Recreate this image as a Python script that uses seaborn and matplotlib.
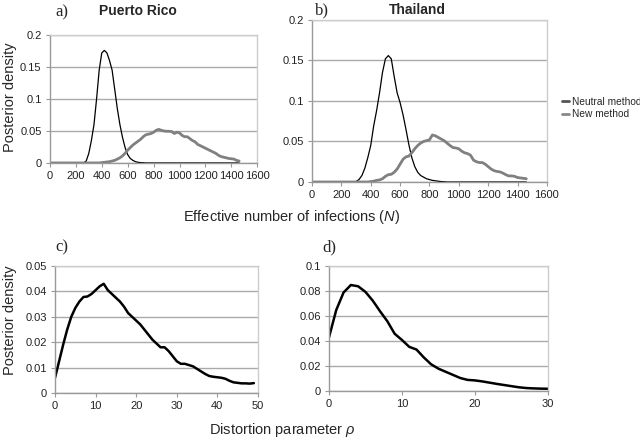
import numpy as np
import pandas as pd
import matplotlib
matplotlib.use("Agg")
import matplotlib.pyplot as plt
import seaborn as sns
from matplotlib.ticker import FuncFormatter, MultipleLocator

# --- data ---
n_grid = list(range(0, 1480, 20))  # effective number of infections N

pr_neutral = [0] * 14 + [
    0.003, 0.015, 0.035, 0.06, 0.10, 0.145, 0.172, 0.176, 0.172, 0.16,
    0.145, 0.115, 0.085, 0.06, 0.04, 0.024, 0.013, 0.007, 0.004, 0.002,
    0.001, 0.0005, 0.0003] + [0] * 37
pr_new = [0] * 20 + [
    0.0005, 0.001, 0.0015, 0.002, 0.003, 0.004, 0.006, 0.008, 0.011, 0.015,
    0.02, 0.024, 0.028, 0.031, 0.034, 0.037, 0.041, 0.044, 0.045, 0.046,
    0.048, 0.051, 0.0525, 0.051, 0.050, 0.0495, 0.0495, 0.049, 0.046, 0.048,
    0.047, 0.043, 0.041, 0.041, 0.038, 0.035, 0.033, 0.029, 0.027, 0.025,
    0.023, 0.021, 0.019, 0.017, 0.015, 0.012, 0.010, 0.009, 0.008, 0.007,
    0.0065, 0.006, 0.004, 0.003]

th_neutral = [0] * 15 + [
    0.0005, 0.003, 0.008, 0.017, 0.03, 0.045, 0.069, 0.088, 0.11, 0.135,
    0.152, 0.156, 0.152, 0.13, 0.11, 0.098, 0.083, 0.065, 0.046, 0.03,
    0.019, 0.012, 0.008, 0.006, 0.004, 0.003, 0.002, 0.0015, 0.001, 0.0005,
    0.0003] + [0] * 28
th_new = [0] * 20 + [
    0.0005, 0.001, 0.002, 0.0025, 0.004, 0.007, 0.009, 0.0095, 0.012, 0.016,
    0.022, 0.028, 0.031, 0.032, 0.036, 0.041, 0.045, 0.048, 0.050, 0.051,
    0.052, 0.058, 0.057, 0.055, 0.053, 0.051, 0.048, 0.045, 0.0425, 0.042,
    0.041, 0.038, 0.036, 0.035, 0.033, 0.027, 0.025, 0.024, 0.024, 0.022,
    0.019, 0.016, 0.014, 0.013, 0.0125, 0.011, 0.009, 0.0075, 0.0075, 0.007,
    0.0055, 0.005, 0.0045, 0.004]

rho_pr = list(range(0, 50))
dens_pr = [
    0.006, 0.0125, 0.019, 0.025, 0.030, 0.0335, 0.036, 0.0378, 0.038, 0.039,
    0.0405, 0.042, 0.043, 0.0405, 0.039, 0.0375, 0.036, 0.034, 0.0315, 0.030,
    0.0285, 0.027, 0.025, 0.023, 0.021, 0.0195, 0.018, 0.018, 0.0165, 0.0145,
    0.0125, 0.0115, 0.0115, 0.011, 0.0105, 0.0095, 0.0085, 0.0075, 0.0067, 0.0064,
    0.0062, 0.006, 0.0056, 0.0048, 0.0042, 0.004, 0.0038, 0.0038, 0.0037, 0.0039]

rho_th = list(range(0, 31))
dens_th = [
    0.043, 0.065, 0.079, 0.085, 0.084, 0.0795, 0.0725, 0.064, 0.056, 0.046,
    0.041, 0.0355, 0.0333, 0.027, 0.0215, 0.018, 0.0155, 0.013, 0.0105, 0.009,
    0.0086, 0.0078, 0.0068, 0.0058, 0.0049, 0.004, 0.0031, 0.0025, 0.0022, 0.002,
    0.0019]

# --- styling ---
sns.set_style("white")
plt.rcParams['font.family'] = ['Liberation Sans', 'DejaVu Sans']
plt.rcParams['mathtext.fontset'] = 'custom'
plt.rcParams['mathtext.rm'] = 'Liberation Sans'
plt.rcParams['mathtext.it'] = 'Liberation Sans:italic'

fig = plt.figure(figsize=(6.4, 4.38), dpi=100)
ax_a = fig.add_axes([0.078, 0.628, 0.324, 0.292])
ax_b = fig.add_axes([0.4875, 0.5845, 0.367, 0.370])
ax_c = fig.add_axes([0.086, 0.1027, 0.317, 0.29])
ax_d = fig.add_axes([0.514, 0.107, 0.342, 0.285])


def excel_style(ax, xmax, xstep, ymax, ystep):
    ax.set_xlim(0, xmax)
    ax.set_ylim(0, ymax)
    ax.xaxis.set_major_locator(MultipleLocator(xstep))
    ax.yaxis.set_major_locator(MultipleLocator(ystep))
    ax.yaxis.set_major_formatter(FuncFormatter(lambda v, p: f"{v:g}"))
    ax.grid(axis='y', color='#aaaaaa', linewidth=1.0)
    ax.set_axisbelow(True)
    for s in ['top', 'right']:
        ax.spines[s].set_color('#cccccc')
        ax.spines[s].set_linewidth(1.0)
    for s in ['left', 'bottom']:
        ax.spines[s].set_color('#999999')
        ax.spines[s].set_linewidth(1.0)
    ax.tick_params(axis='both', direction='out', length=3, width=0.8,
                   color='#999999', labelsize=8, labelcolor='#222222', pad=3)
    ax.tick_params(axis='x', bottom=True)
    ax.tick_params(axis='y', left=True)
    ax.set_xlabel('')
    ax.set_ylabel('')


# panels a and b
for ax, neu, new in [(ax_a, pr_neutral, pr_new), (ax_b, th_neutral, th_new)]:
    sns.lineplot(x=n_grid, y=neu, ax=ax, color='black', linewidth=0.9,
                 label='Neutral method', legend=False)
    sns.lineplot(x=n_grid, y=new, ax=ax, color='#808080', linewidth=2.0,
                 label='New method', legend=False)
    excel_style(ax, 1600, 200, 0.2, 0.05)

# panels c and d
sns.lineplot(x=rho_pr, y=dens_pr, ax=ax_c, color='black', linewidth=1.8)
excel_style(ax_c, 50, 10, 0.05, 0.01)
sns.lineplot(x=rho_th, y=dens_th, ax=ax_d, color='black', linewidth=1.8)
excel_style(ax_d, 30, 10, 0.1, 0.02)

# legend
handles, labels = ax_b.get_legend_handles_labels()
leg = fig.legend(handles, labels, loc='center left',
                 bbox_to_anchor=(0.878, 0.753), frameon=False,
                 fontsize=7.3, handlelength=0.7, handletextpad=0.25,
                 labelspacing=0.25, borderaxespad=0, borderpad=0)
for h in leg.legend_handles:
    h.set_linewidth(2.0)
    h.set_color('#555555' if h.get_label() == 'Neutral method' else '#888888')

# panel letters and titles
serif = ['Liberation Serif', 'DejaVu Serif']
fig.text(55 / 640, 1 - 12 / 438, 'a)', family=serif, fontsize=12, va='center')
fig.text(315 / 640, 1 - 10 / 438, 'b)', family=serif, fontsize=12, va='center')
fig.text(55 / 640, 1 - 247 / 438, 'c)', family=serif, fontsize=12, va='center')
fig.text(322 / 640, 1 - 247 / 438, 'd)', family=serif, fontsize=12, va='center')
fig.text(138 / 640, 1 - 11 / 438, 'Puerto Rico', fontsize=10, fontweight='bold',
         ha='center', va='center')
fig.text(417 / 640, 1 - 10 / 438, 'Thailand', fontsize=10, fontweight='bold',
         ha='center', va='center')

# axis titles
fig.text(292 / 640, 1 - 217 / 438, 'Effective number of infections ($N$)',
         fontsize=10.5, ha='center', va='center')
fig.text(282 / 640, 1 - 430 / 438, r'Distortion parameter $\rho$',
         fontsize=10.5, ha='center', va='center')
fig.text(10 / 640, 1 - 97 / 438, 'Posterior density', fontsize=10.5,
         rotation=90, ha='center', va='center')
fig.text(10 / 640, 1 - 320 / 438, 'Posterior density', fontsize=10.5,
         rotation=90, ha='center', va='center')

fig.savefig('out.png', dpi=100)
